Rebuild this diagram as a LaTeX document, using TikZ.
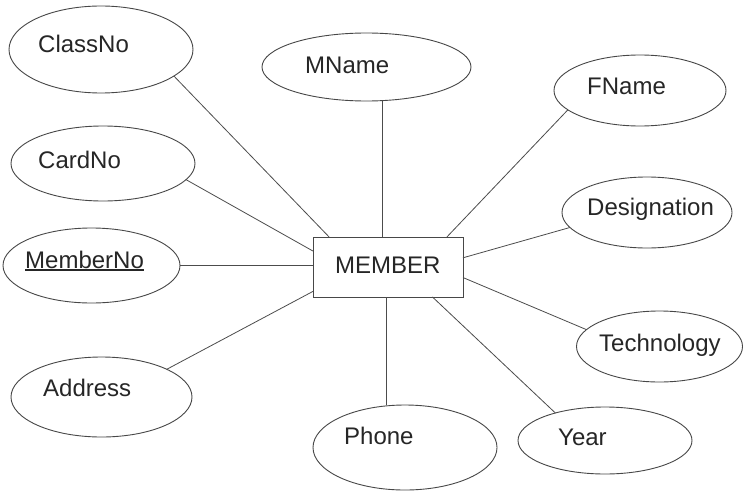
\documentclass[tikz,border=0pt]{standalone}
\usepackage{fontspec}
\setmainfont{Liberation Sans}
\usetikzlibrary{shapes.geometric}
\begin{document}
\begin{tikzpicture}[x=1pt,y=-1pt,
  attr/.style={draw=black!72, line width=0.9pt, ellipse, inner sep=0pt, outer sep=0pt},
  ent/.style={draw=black!72, line width=0.9pt, rectangle, inner sep=0pt, outer sep=0pt, minimum width=150pt, minimum height=60pt},
  lbl/.style={anchor=base west, inner sep=0pt, text=black!85, font=\fontsize{24}{28}\selectfont},
  link/.style={draw=black!70, line width=0.8pt}]
\useasboundingbox (0,0) rectangle (743,495);
\fill[white] (0,0) rectangle (743,495);
% entity
\node[ent] (member) at (388,267) {};
\node[lbl] (tmember) at (335,273.3) {MEMBER};
% attributes
\node[attr, minimum width=184pt, minimum height=87pt] (classno) at (101,49.5) {};
\node[attr, minimum width=184pt, minimum height=75pt] (cardno) at (103,163.5) {};
\node[attr, minimum width=177pt, minimum height=75pt] (memberno) at (91.5,265.5) {};
\node[attr, minimum width=181pt, minimum height=80pt] (address) at (101.5,397) {};
\node[attr, minimum width=209pt, minimum height=68pt] (mname) at (366.5,67) {};
\node[attr, minimum width=172pt, minimum height=71pt] (fname) at (640,90.5) {};
\node[attr, minimum width=170pt, minimum height=71pt] (desig) at (647,212.5) {};
\node[attr, minimum width=166pt, minimum height=71pt] (tech) at (659.5,346.5) {};
\node[attr, minimum width=174pt, minimum height=67pt] (year) at (605,440.5) {};
\node[attr, minimum width=184pt, minimum height=85pt] (phone) at (405,447.5) {};
% labels
\node[lbl] (tclassno) at (38,52.3) {ClassNo};
\node[lbl] (tcardno) at (38,168.3) {CardNo};
\node[lbl] (tmemberno) at (25,268) {MemberNo};
\draw[black!85, line width=1.2pt] ([yshift=-2pt]tmemberno.base west) -- ([yshift=-2pt]tmemberno.base east);
\node[lbl] (taddress) at (43,396.7) {Address};
\node[lbl] (tmname) at (305,73.3) {MName};
\node[lbl] (tfname) at (587,94.3) {FName};
\node[lbl] (tdesig) at (587,215) {Designation};
\node[lbl] (ttech) at (599,351.7) {Technology};
\node[lbl] (tyear) at (558,445) {Year};
\node[lbl] (tphone) at (344,444) {Phone};
% connectors
\draw[link] (classno.-20.2) -- (member.153);
\draw[link] (cardno.-11.1) -- (member.168.7);
\draw[link] (memberno.east) -- (memberno.east -| member.west);
\draw[link] (address.23.6) -- (member.198.4);
\draw[link] (member.101.3) -- (member.101.3 |- mname.south);
\draw[link] (fname.195.7) -- (member.27);
\draw[link] (desig.191.8) -- (member.7.6);
\draw[link] (tech.167.9) -- (member.-8.3);
\draw[link] (year.151.2) -- (member.-34.9);
\draw[link] (member.266.2) -- (member.266.2 |- phone.north);
\end{tikzpicture}
\end{document}
